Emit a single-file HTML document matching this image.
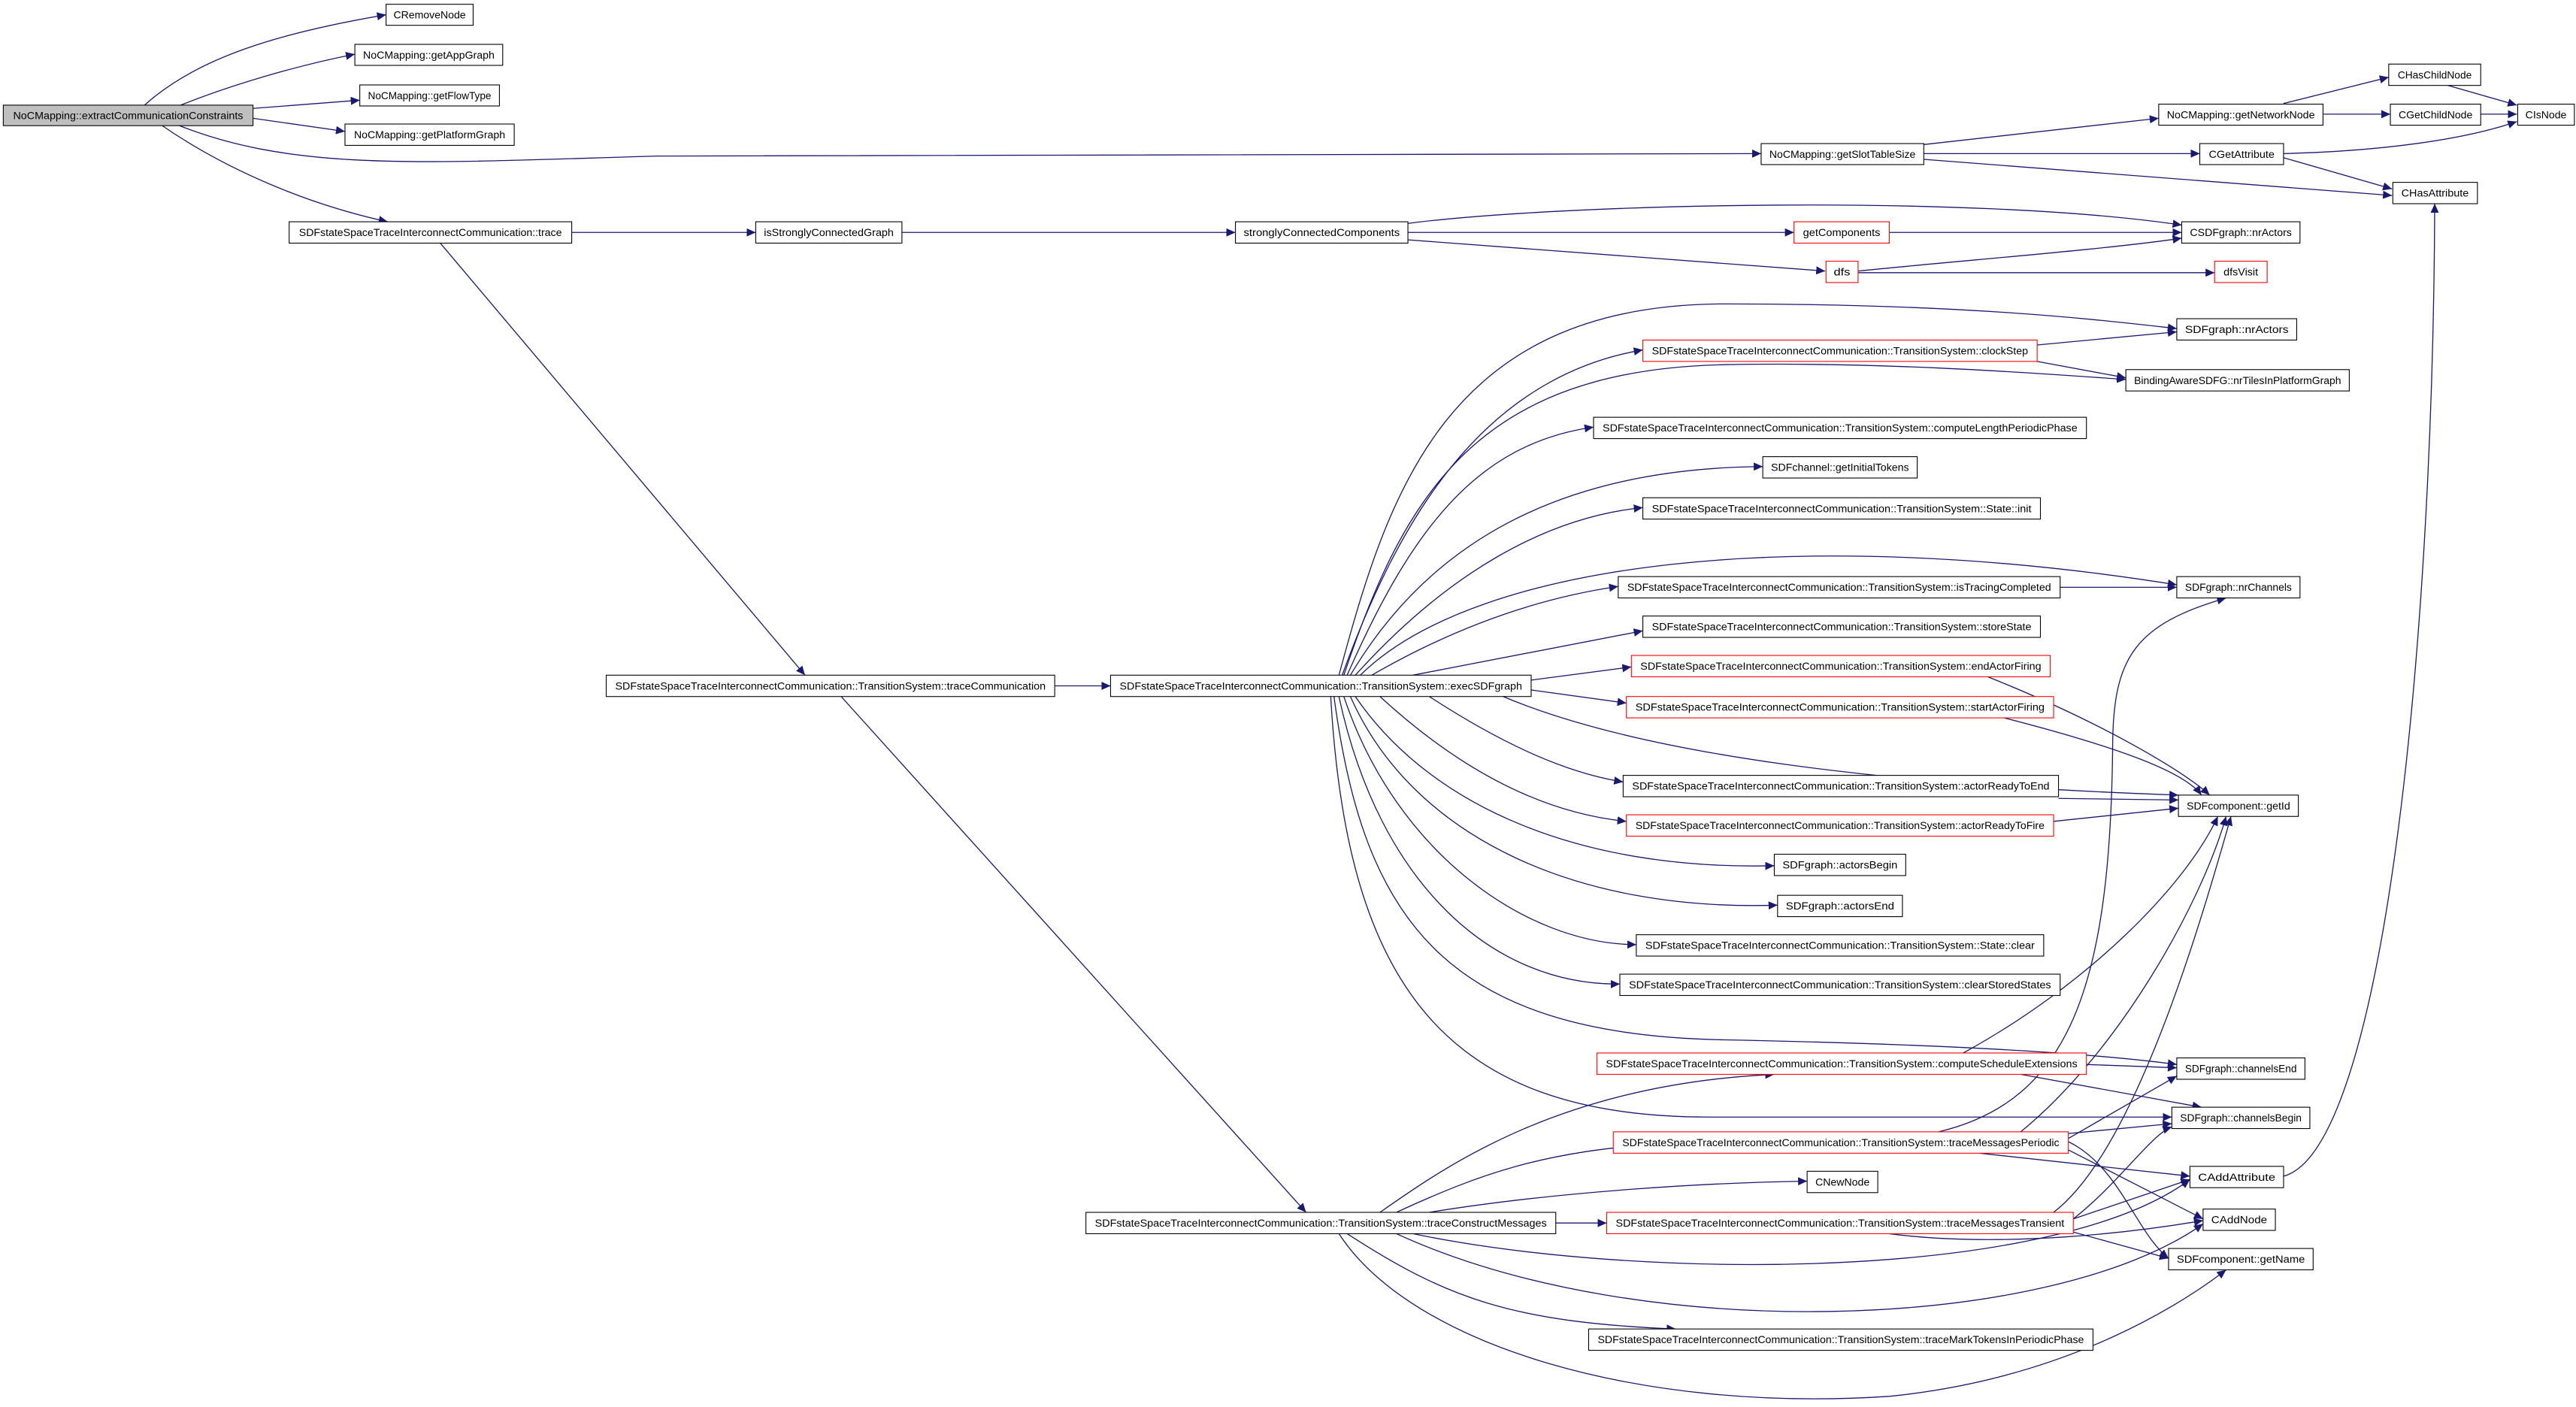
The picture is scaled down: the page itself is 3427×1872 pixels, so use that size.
<!DOCTYPE html>
<html><head><meta charset="utf-8"><style>html,body{margin:0;padding:0;background:#fff}svg{display:block}</style></head>
<body>
<svg width="3427" height="1872" viewBox="0 0 1568 856.5" preserveAspectRatio="none" xmlns="http://www.w3.org/2000/svg">
<defs><marker id="a" markerUnits="userSpaceOnUse" markerWidth="6" markerHeight="5" refX="5.5" refY="2.5" orient="auto"><path d="M0,0 L5.5,2.5 L0,5 z" fill="#191970"/></marker></defs>
<rect width="1568" height="856.5" fill="#fff"/>
<g fill="none" stroke="#191970" stroke-width="0.6" marker-end="url(#a)">
<path d="M88,64 C120,35 170,20 235,9"/>
<path d="M110,64 C140,52 180,40 216,33"/>
<path d="M154,66 L219,61"/>
<path d="M154,72 L210,80"/>
<path d="M108,76 C180,105 260,99 400,95 L1072,93.5"/>
<path d="M98,76 C140,105 190,125 236,135"/>
<path d="M348,141.5 L460,141.5"/>
<path d="M549,141.5 L752,141.5"/>
<path d="M857,136 C950,124 1200,118 1328,137"/>
<path d="M857,141.5 L1092,141.5"/>
<path d="M857,146 L1111,165"/>
<path d="M1150,141.5 L1328,141.5"/>
<path d="M1131,165 C1200,158 1280,152 1328,145"/>
<path d="M1131,166 L1348,166"/>
<path d="M1171,88 L1314,72"/>
<path d="M1171,93.5 L1339,93.5"/>
<path d="M1171,97 L1456,119"/>
<path d="M1390,63 L1454,47"/>
<path d="M1414,69.5 L1455,69.5"/>
<path d="M1490,52 L1532,64"/>
<path d="M1510,69.5 L1532,69.5"/>
<path d="M1390,93.5 C1450,92 1500,85 1532,74"/>
<path d="M1390,96 L1456,115"/>
<path d="M1390,716 C1450,700 1481,400 1482,124"/>
<path d="M268,148 L490,411"/>
<path d="M642,417.5 L676,417.5"/>
<path d="M512,424 L795,738"/>
<path d="M815,411 C845,300 880,185 1050,185 C1200,185 1280,195 1325,200"/>
<path d="M817,411 C850,320 900,230 1000,213"/>
<path d="M818,411 C855,300 900,225 1050,222 C1150,220 1250,228 1294,231"/>
<path d="M820,411 C860,320 900,270 970,260"/>
<path d="M822,411 C870,330 950,285 1073,284"/>
<path d="M825,411 C880,350 940,315 1000,309"/>
<path d="M828,411 C900,340 1100,320 1325,356"/>
<path d="M835,411 C880,385 930,365 985,357"/>
<path d="M860,411 L1000,384"/>
<path d="M932,414 L993,406"/>
<path d="M932,420 L990,428"/>
<path d="M870,424 C910,450 950,470 988,476"/>
<path d="M915,424 C1000,460 1150,478 1326,484"/>
<path d="M840,424 C890,470 940,495 990,500"/>
<path d="M825,424 C870,490 960,530 1080,527"/>
<path d="M822,424 C860,510 960,555 1082,551"/>
<path d="M818,424 C850,520 930,575 996,575"/>
<path d="M815,424 C840,540 910,600 986,599"/>
<path d="M812,424 C830,560 880,630 1050,633 C1200,636 1280,642 1325,648"/>
<path d="M810,424 C820,600 880,680 1040,680 L1322,680"/>
<path d="M1210,412 C1280,440 1330,470 1345,484"/>
<path d="M1220,437 C1290,455 1330,470 1340,484"/>
<path d="M1253,486 L1326,487"/>
<path d="M1250,500 L1326,492"/>
<path d="M1254,357.5 L1325,357.5"/>
<path d="M1240,210 L1325,202"/>
<path d="M1240,220 L1294,230"/>
<path d="M840,738 C880,710 950,660 1080,654"/>
<path d="M850,738 C900,715 940,700 1017,696"/>
<path d="M870,738 C950,725 1040,720 1100,719"/>
<path d="M947,744.5 L978,744.5"/>
<path d="M860,751 C1000,780 1250,780 1333,718"/>
<path d="M850,751 C1000,820 1250,810 1341,745"/>
<path d="M820,751 C880,790 920,805 1020,809"/>
<path d="M815,751 C860,820 1000,860 1150,850 C1250,840 1320,800 1355,773"/>
<path d="M1195,641 C1270,600 1330,540 1350,497"/>
<path d="M1270,648 L1325,650"/>
<path d="M1230,654 L1340,674"/>
<path d="M1230,689 C1290,640 1340,550 1355,497"/>
<path d="M1180,689 C1260,670 1285,600 1286,450 C1287,400 1300,380 1355,364"/>
<path d="M1259,693 L1325,655"/>
<path d="M1259,690 L1322,684"/>
<path d="M1205,702 L1333,716"/>
<path d="M1259,700 L1341,742"/>
<path d="M1259,695 C1290,710 1300,750 1320,766"/>
<path d="M1250,738 C1300,700 1340,560 1358,497"/>
<path d="M1262,742 C1290,720 1310,690 1322,686"/>
<path d="M1262,742 L1333,718"/>
<path d="M1150,751 C1220,760 1300,750 1341,743"/>
<path d="M1262,750 L1320,766"/>
</g>
<g font-family="Liberation Sans, sans-serif" font-size="6.3" text-anchor="middle" fill="#000" stroke-width="0.5">
<!-- nodes: x, w, y -->
<rect x="2" y="64" width="152" height="12.5" fill="#bfbfbf" stroke="#000"/><text x="78" y="72.5" textLength="140" lengthAdjust="spacingAndGlyphs">NoCMapping::extractCommunicationConstraints</text>
<rect x="235" y="2.6" width="53" height="12.8" fill="#fff" stroke="#000"/><text x="261.5" y="11.2" textLength="44" lengthAdjust="spacingAndGlyphs">CRemoveNode</text>
<rect x="216" y="27" width="90" height="12.8" fill="#fff" stroke="#000"/><text x="261" y="35.6" textLength="80" lengthAdjust="spacingAndGlyphs">NoCMapping::getAppGraph</text>
<rect x="219" y="51.7" width="85" height="12.8" fill="#fff" stroke="#000"/><text x="261.5" y="60.3" textLength="75" lengthAdjust="spacingAndGlyphs">NoCMapping::getFlowType</text>
<rect x="210" y="75.5" width="103" height="13" fill="#fff" stroke="#000"/><text x="261.5" y="84.2" textLength="92" lengthAdjust="spacingAndGlyphs">NoCMapping::getPlatformGraph</text>
<rect x="176" y="135" width="172" height="13" fill="#fff" stroke="#000"/><text x="262" y="143.7" textLength="160" lengthAdjust="spacingAndGlyphs">SDFstateSpaceTraceInterconnectCommunication::trace</text>
<rect x="1072" y="87.4" width="99" height="12.8" fill="#fff" stroke="#000"/><text x="1121.5" y="96" textLength="89" lengthAdjust="spacingAndGlyphs">NoCMapping::getSlotTableSize</text>
<rect x="1314" y="63.4" width="100" height="12.8" fill="#fff" stroke="#000"/><text x="1364" y="72" textLength="90" lengthAdjust="spacingAndGlyphs">NoCMapping::getNetworkNode</text>
<rect x="1454" y="39" width="56" height="13" fill="#fff" stroke="#000"/><text x="1482" y="47.7" textLength="45" lengthAdjust="spacingAndGlyphs">CHasChildNode</text>
<rect x="1455" y="63.4" width="55" height="12.8" fill="#fff" stroke="#000"/><text x="1482.5" y="72" textLength="45" lengthAdjust="spacingAndGlyphs">CGetChildNode</text>
<rect x="1532.5" y="63.4" width="34.5" height="12.8" fill="#fff" stroke="#000"/><text x="1549.7" y="72" textLength="25" lengthAdjust="spacingAndGlyphs">CIsNode</text>
<rect x="1339" y="87.4" width="51" height="12.8" fill="#fff" stroke="#000"/><text x="1364.5" y="96" textLength="40" lengthAdjust="spacingAndGlyphs">CGetAttribute</text>
<rect x="1456.5" y="111" width="51.5" height="13" fill="#fff" stroke="#000"/><text x="1482.2" y="119.7" textLength="41" lengthAdjust="spacingAndGlyphs">CHasAttribute</text>
<rect x="1092" y="135" width="58" height="13" fill="#fff" stroke="#f00"/><text x="1121" y="143.7" textLength="47" lengthAdjust="spacingAndGlyphs">getComponents</text>
<rect x="1328" y="135" width="72" height="13" fill="#fff" stroke="#000"/><text x="1364" y="143.7" textLength="62" lengthAdjust="spacingAndGlyphs">CSDFgraph::nrActors</text>
<rect x="1111.5" y="159" width="19.5" height="13" fill="#fff" stroke="#f00"/><text x="1121.2" y="167.7" textLength="10" lengthAdjust="spacingAndGlyphs">dfs</text>
<rect x="1348" y="159" width="32" height="13" fill="#fff" stroke="#f00"/><text x="1364" y="167.7" textLength="21" lengthAdjust="spacingAndGlyphs">dfsVisit</text>
<rect x="460" y="135" width="89" height="13" fill="#fff" stroke="#000"/><text x="504.5" y="143.7" textLength="79" lengthAdjust="spacingAndGlyphs">isStronglyConnectedGraph</text>
<rect x="752" y="135" width="105" height="13" fill="#fff" stroke="#000"/><text x="804.5" y="143.7" textLength="95" lengthAdjust="spacingAndGlyphs">stronglyConnectedComponents</text>
<rect x="369" y="411" width="273" height="13" fill="#fff" stroke="#000"/><text x="505.5" y="419.7" textLength="262" lengthAdjust="spacingAndGlyphs">SDFstateSpaceTraceInterconnectCommunication::TransitionSystem::traceCommunication</text>
<rect x="676" y="411" width="256" height="13" fill="#fff" stroke="#000"/><text x="804" y="419.7" textLength="245" lengthAdjust="spacingAndGlyphs">SDFstateSpaceTraceInterconnectCommunication::TransitionSystem::execSDFgraph</text>
<rect x="661" y="738" width="286" height="13" fill="#fff" stroke="#000"/><text x="804" y="746.7" textLength="275" lengthAdjust="spacingAndGlyphs">SDFstateSpaceTraceInterconnectCommunication::TransitionSystem::traceConstructMessages</text>
<rect x="1000" y="207" width="240" height="13" fill="#fff" stroke="#f00"/><text x="1120" y="215.7" textLength="229" lengthAdjust="spacingAndGlyphs">SDFstateSpaceTraceInterconnectCommunication::TransitionSystem::clockStep</text>
<rect x="1325" y="194" width="73" height="13" fill="#fff" stroke="#000"/><text x="1361.5" y="202.7" textLength="63" lengthAdjust="spacingAndGlyphs">SDFgraph::nrActors</text>
<rect x="1294" y="225" width="136" height="13" fill="#fff" stroke="#000"/><text x="1362" y="233.7" textLength="126" lengthAdjust="spacingAndGlyphs">BindingAwareSDFG::nrTilesInPlatformGraph</text>
<rect x="970" y="254" width="300" height="13" fill="#fff" stroke="#000"/><text x="1120" y="262.7" textLength="289" lengthAdjust="spacingAndGlyphs">SDFstateSpaceTraceInterconnectCommunication::TransitionSystem::computeLengthPeriodicPhase</text>
<rect x="1073" y="278" width="94" height="13" fill="#fff" stroke="#000"/><text x="1120" y="286.7" textLength="84" lengthAdjust="spacingAndGlyphs">SDFchannel::getInitialTokens</text>
<rect x="1000" y="303" width="242" height="13" fill="#fff" stroke="#000"/><text x="1121" y="311.7" textLength="231" lengthAdjust="spacingAndGlyphs">SDFstateSpaceTraceInterconnectCommunication::TransitionSystem::State::init</text>
<rect x="985" y="351" width="269" height="13" fill="#fff" stroke="#000"/><text x="1119.5" y="359.7" textLength="258" lengthAdjust="spacingAndGlyphs">SDFstateSpaceTraceInterconnectCommunication::TransitionSystem::isTracingCompleted</text>
<rect x="1325" y="351" width="75" height="13" fill="#fff" stroke="#000"/><text x="1362.5" y="359.7" textLength="65" lengthAdjust="spacingAndGlyphs">SDFgraph::nrChannels</text>
<rect x="1000" y="375" width="242" height="13" fill="#fff" stroke="#000"/><text x="1121" y="383.7" textLength="231" lengthAdjust="spacingAndGlyphs">SDFstateSpaceTraceInterconnectCommunication::TransitionSystem::storeState</text>
<rect x="993" y="399" width="255" height="13" fill="#fff" stroke="#f00"/><text x="1120.5" y="407.7" textLength="244" lengthAdjust="spacingAndGlyphs">SDFstateSpaceTraceInterconnectCommunication::TransitionSystem::endActorFiring</text>
<rect x="990" y="424" width="260" height="13" fill="#fff" stroke="#f00"/><text x="1120" y="432.7" textLength="249" lengthAdjust="spacingAndGlyphs">SDFstateSpaceTraceInterconnectCommunication::TransitionSystem::startActorFiring</text>
<rect x="988" y="472" width="265" height="13" fill="#fff" stroke="#000"/><text x="1120.5" y="480.7" textLength="254" lengthAdjust="spacingAndGlyphs">SDFstateSpaceTraceInterconnectCommunication::TransitionSystem::actorReadyToEnd</text>
<rect x="1326" y="484" width="73" height="13" fill="#fff" stroke="#000"/><text x="1362.5" y="492.7" textLength="63" lengthAdjust="spacingAndGlyphs">SDFcomponent::getId</text>
<rect x="990" y="496" width="260" height="13" fill="#fff" stroke="#f00"/><text x="1120" y="504.7" textLength="249" lengthAdjust="spacingAndGlyphs">SDFstateSpaceTraceInterconnectCommunication::TransitionSystem::actorReadyToFire</text>
<rect x="1080" y="520" width="80" height="13" fill="#fff" stroke="#000"/><text x="1120" y="528.7" textLength="70" lengthAdjust="spacingAndGlyphs">SDFgraph::actorsBegin</text>
<rect x="1082" y="545" width="76" height="13" fill="#fff" stroke="#000"/><text x="1120" y="553.7" textLength="66" lengthAdjust="spacingAndGlyphs">SDFgraph::actorsEnd</text>
<rect x="996" y="569" width="248" height="13" fill="#fff" stroke="#000"/><text x="1120" y="577.7" textLength="237" lengthAdjust="spacingAndGlyphs">SDFstateSpaceTraceInterconnectCommunication::TransitionSystem::State::clear</text>
<rect x="986" y="593" width="268" height="13" fill="#fff" stroke="#000"/><text x="1120" y="601.7" textLength="257" lengthAdjust="spacingAndGlyphs">SDFstateSpaceTraceInterconnectCommunication::TransitionSystem::clearStoredStates</text>
<rect x="972" y="641" width="298" height="13" fill="#fff" stroke="#f00"/><text x="1121" y="649.7" textLength="287" lengthAdjust="spacingAndGlyphs">SDFstateSpaceTraceInterconnectCommunication::TransitionSystem::computeScheduleExtensions</text>
<rect x="1325" y="644" width="78" height="13" fill="#fff" stroke="#000"/><text x="1364" y="652.7" textLength="68" lengthAdjust="spacingAndGlyphs">SDFgraph::channelsEnd</text>
<rect x="1322" y="674" width="84" height="13" fill="#fff" stroke="#000"/><text x="1364" y="682.7" textLength="74" lengthAdjust="spacingAndGlyphs">SDFgraph::channelsBegin</text>
<rect x="982" y="689" width="277" height="13" fill="#fff" stroke="#f00"/><text x="1120.5" y="697.7" textLength="266" lengthAdjust="spacingAndGlyphs">SDFstateSpaceTraceInterconnectCommunication::TransitionSystem::traceMessagesPeriodic</text>
<rect x="1100" y="713" width="43" height="13" fill="#fff" stroke="#000"/><text x="1121.5" y="721.7" textLength="33" lengthAdjust="spacingAndGlyphs">CNewNode</text>
<rect x="1333" y="710" width="57" height="13" fill="#fff" stroke="#000"/><text x="1361.5" y="718.7" textLength="47" lengthAdjust="spacingAndGlyphs">CAddAttribute</text>
<rect x="978" y="738" width="284" height="13" fill="#fff" stroke="#f00"/><text x="1120" y="746.7" textLength="273" lengthAdjust="spacingAndGlyphs">SDFstateSpaceTraceInterconnectCommunication::TransitionSystem::traceMessagesTransient</text>
<rect x="1341" y="736" width="44" height="13" fill="#fff" stroke="#000"/><text x="1363" y="744.7" textLength="34" lengthAdjust="spacingAndGlyphs">CAddNode</text>
<rect x="1320" y="760" width="88" height="13" fill="#fff" stroke="#000"/><text x="1364" y="768.7" textLength="78" lengthAdjust="spacingAndGlyphs">SDFcomponent::getName</text>
<rect x="967" y="809" width="307" height="13" fill="#fff" stroke="#000"/><text x="1120.5" y="817.7" textLength="296" lengthAdjust="spacingAndGlyphs">SDFstateSpaceTraceInterconnectCommunication::TransitionSystem::traceMarkTokensInPeriodicPhase</text>
</g>
</svg>
</body></html>
